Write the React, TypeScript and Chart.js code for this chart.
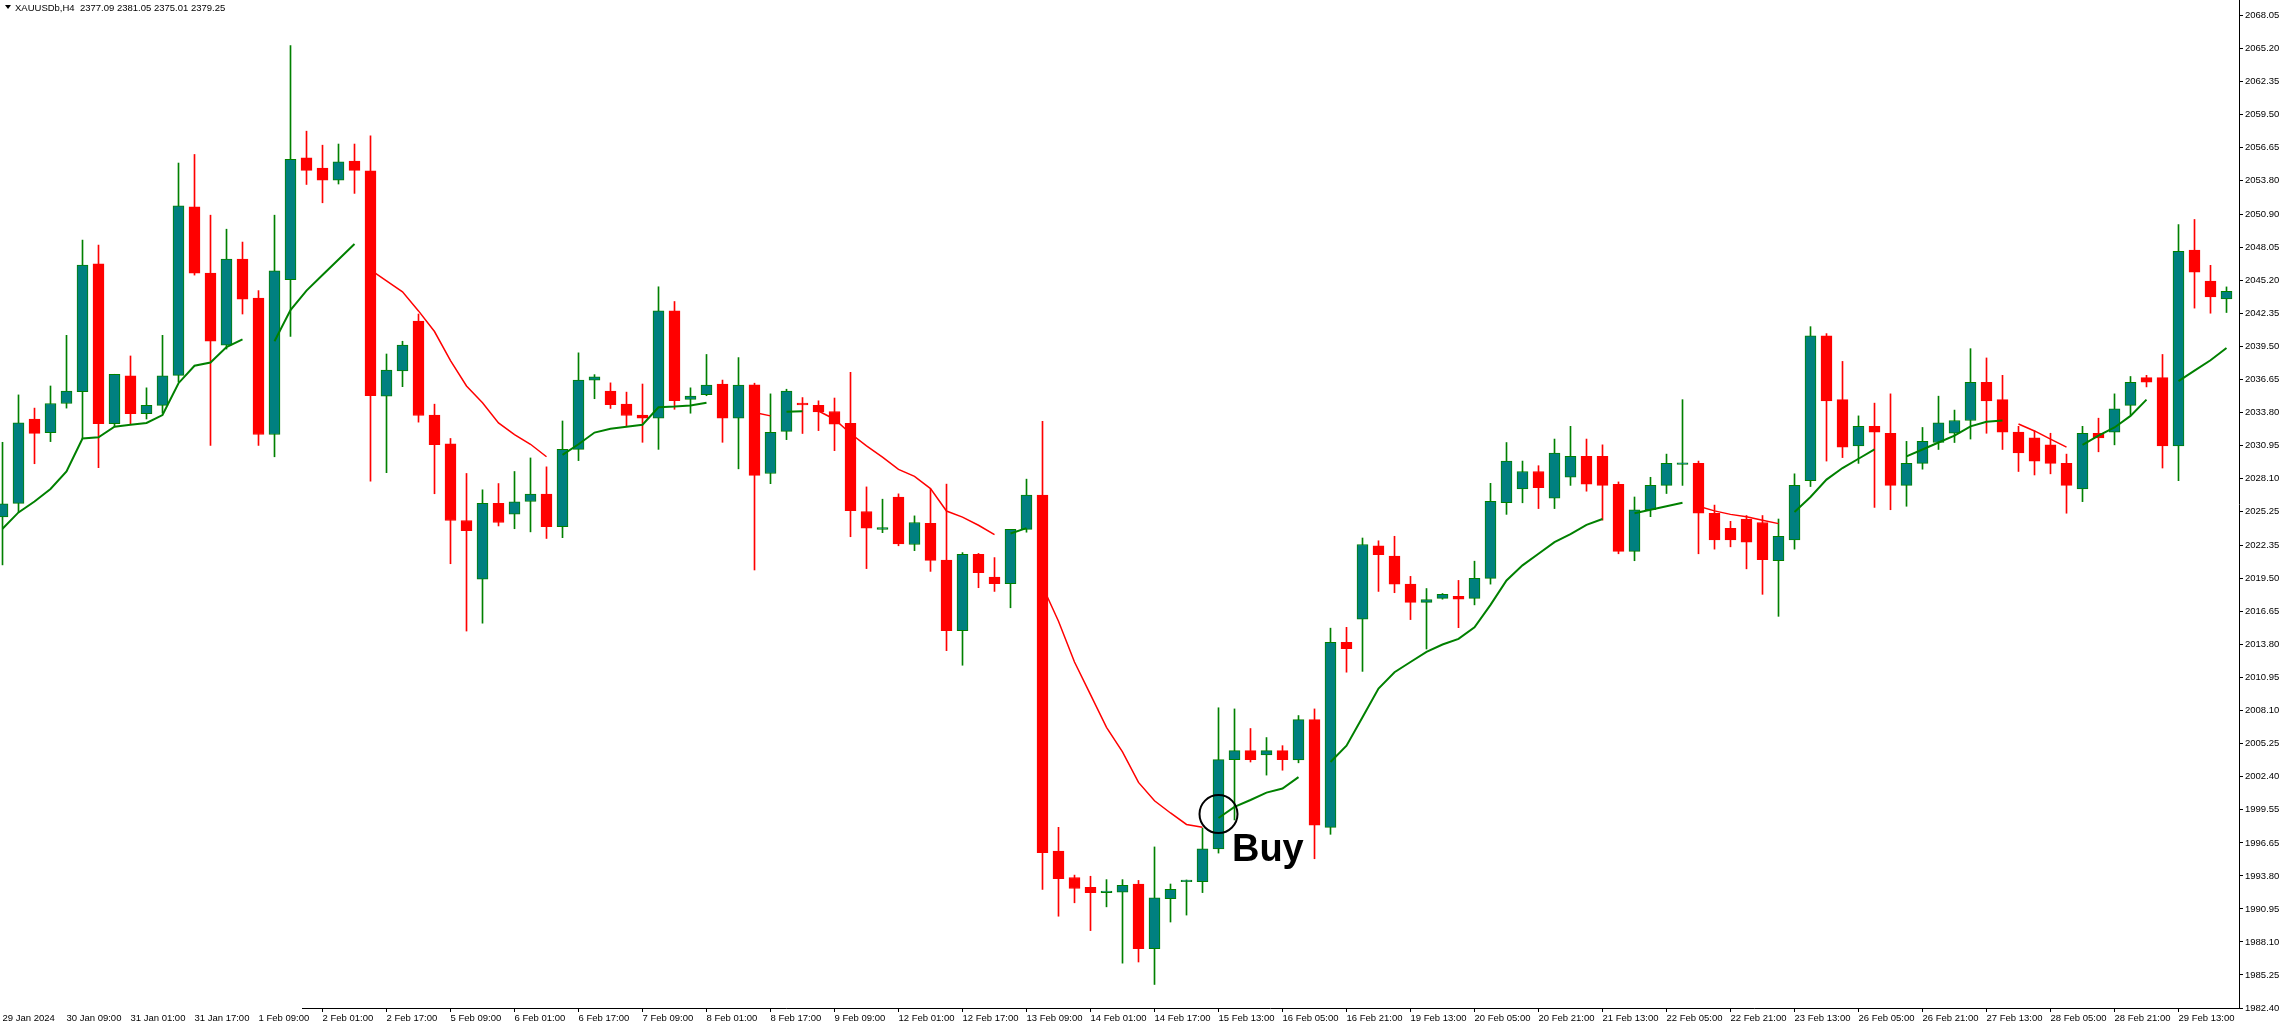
import React, { useEffect, useRef } from 'react';
import { Chart, registerables } from 'chart.js';

Chart.register(...registerables);

// ---- Data (XAUUSDb, H4) ----
const opens = [
  2024.77, 2025.95, 2033.23, 2032.06, 2034.57, 2035.58, 2046.62, 2032.83, 2036.96, 2033.70,
  2034.40, 2036.99, 2051.53, 2045.82, 2039.61, 2047.03, 2043.67, 2031.89, 2045.25, 2055.76,
  2054.88, 2053.84, 2055.49, 2054.65, 2035.21, 2037.39, 2041.69, 2033.57, 2031.08, 2024.47,
  2019.40, 2025.95, 2025.01, 2026.11, 2026.75, 2023.93, 2030.61, 2036.59, 2035.65, 2034.51,
  2033.57, 2033.30, 2042.56, 2034.91, 2035.34, 2036.25, 2033.30, 2036.18, 2028.53, 2032.16,
  2034.60, 2034.41, 2033.88, 2032.86, 2025.25, 2023.70, 2026.49, 2022.40, 2024.23, 2021.06,
  2014.97, 2021.56, 2019.58, 2019.02, 2023.70, 2026.66, 1995.95, 1993.66, 1992.82, 1992.36,
  1992.39, 1993.10, 1987.53, 1991.83, 1993.30, 1993.31, 1996.13, 2003.84, 2004.61, 2004.23,
  2004.61, 2003.80, 2007.29, 1997.99, 2013.95, 2015.96, 2022.29, 2021.41, 2018.98, 2017.40,
  2017.75, 2017.93, 2017.75, 2019.48, 2026.00, 2027.20, 2028.70, 2026.40, 2028.20, 2030.00,
  2030.00, 2027.60, 2021.80, 2025.40, 2027.50, 2029.30, 2029.40, 2025.10, 2023.80, 2024.60,
  2024.30, 2021.00, 2022.80, 2027.90, 2040.40, 2034.90, 2030.90, 2032.60, 2032.00, 2027.50,
  2029.40, 2031.20, 2032.00, 2033.10, 2036.40, 2034.90, 2032.10, 2031.60, 2031.00, 2029.40,
  2027.20, 2032.00, 2032.10, 2034.40, 2036.80, 2036.80, 2030.90, 2047.80, 2045.14, 2043.60,
];
const highs = [
  2031.22, 2035.31, 2034.17, 2036.08, 2040.45, 2048.67, 2048.24, 2037.09, 2038.67, 2035.92,
  2040.45, 2055.32, 2056.06, 2050.82, 2049.61, 2048.50, 2044.31, 2050.82, 2065.46, 2058.07,
  2056.86, 2056.96, 2056.96, 2057.67, 2038.84, 2039.94, 2042.29, 2034.51, 2031.55, 2028.53,
  2027.12, 2027.66, 2028.70, 2029.87, 2029.10, 2033.06, 2038.94, 2037.06, 2036.35, 2035.55,
  2036.25, 2044.64, 2043.37, 2035.92, 2038.80, 2036.59, 2038.53, 2036.32, 2035.40, 2035.80,
  2035.08, 2034.80, 2035.04, 2037.26, 2027.37, 2026.31, 2026.77, 2024.87, 2027.19, 2027.61,
  2021.70, 2021.63, 2021.27, 2023.70, 2028.04, 2033.04, 1997.99, 1993.87, 1993.77, 1993.48,
  1993.48, 1993.41, 1996.30, 1993.10, 1993.45, 1997.92, 2008.31, 2008.21, 2006.52, 2005.74,
  2005.04, 2007.64, 2008.21, 2015.18, 2015.25, 2022.96, 2022.72, 2023.11, 2019.65, 2018.60,
  2018.17, 2019.30, 2020.96, 2027.68, 2031.20, 2029.60, 2029.20, 2031.50, 2032.60, 2031.50,
  2031.00, 2027.80, 2026.50, 2028.20, 2030.20, 2034.90, 2029.60, 2025.80, 2024.40, 2024.90,
  2024.90, 2024.60, 2028.50, 2041.20, 2040.60, 2038.20, 2033.50, 2034.60, 2035.40, 2031.30,
  2032.50, 2035.20, 2034.00, 2039.30, 2038.50, 2037.00, 2032.60, 2032.20, 2032.00, 2030.20,
  2032.60, 2033.30, 2035.40, 2036.90, 2037.00, 2038.80, 2050.00, 2050.45, 2046.49, 2044.63,
];
const lows = [
  2020.64, 2025.17, 2029.37, 2031.28, 2034.17, 2031.55, 2029.03, 2032.56, 2032.79, 2033.23,
  2033.73, 2036.42, 2045.65, 2030.95, 2039.27, 2042.29, 2030.95, 2029.97, 2040.35, 2053.47,
  2051.89, 2053.51, 2052.70, 2027.86, 2028.60, 2036.02, 2032.96, 2026.78, 2020.74, 2014.93,
  2015.61, 2024.00, 2023.76, 2023.49, 2022.92, 2022.99, 2029.64, 2034.98, 2034.14, 2032.56,
  2031.22, 2030.61, 2034.07, 2033.73, 2035.24, 2031.22, 2028.93, 2020.20, 2027.65, 2031.45,
  2031.98, 2032.23, 2030.50, 2023.07, 2020.32, 2023.42, 2022.29, 2021.87, 2020.08, 2013.24,
  2011.98, 2018.67, 2018.35, 2016.94, 2023.46, 1992.64, 1990.32, 1991.48, 1989.08, 1991.13,
  1986.27, 1986.37, 1984.43, 1989.82, 1990.42, 1992.36, 1995.77, 1998.63, 2003.63, 2002.50,
  2002.92, 2003.56, 1995.28, 1997.39, 2011.38, 2011.45, 2018.35, 2018.24, 2015.92, 2013.38,
  2017.68, 2015.22, 2017.19, 2018.98, 2025.00, 2026.00, 2025.50, 2025.50, 2027.50, 2027.00,
  2024.50, 2021.60, 2021.00, 2024.80, 2026.80, 2027.50, 2021.60, 2022.00, 2022.20, 2020.30,
  2018.10, 2016.20, 2022.00, 2027.40, 2029.60, 2029.90, 2029.40, 2025.60, 2025.40, 2025.70,
  2028.90, 2030.60, 2031.20, 2031.50, 2032.00, 2030.60, 2028.70, 2028.40, 2028.50, 2025.10,
  2026.10, 2030.40, 2031.00, 2033.60, 2036.00, 2029.00, 2027.90, 2042.80, 2042.36, 2042.42,
];
const closes = [
  2025.91, 2032.89, 2031.99, 2034.57, 2035.65, 2046.52, 2032.83, 2037.09, 2033.70, 2034.40,
  2036.96, 2051.63, 2045.82, 2039.94, 2047.03, 2043.57, 2031.89, 2046.02, 2055.65, 2054.68,
  2053.84, 2055.42, 2054.68, 2035.24, 2037.46, 2039.61, 2033.53, 2031.01, 2024.47, 2023.60,
  2025.95, 2024.30, 2026.08, 2026.75, 2023.93, 2030.61, 2036.59, 2036.86, 2034.47, 2033.53,
  2033.30, 2042.56, 2034.81, 2035.21, 2036.15, 2033.30, 2036.15, 2028.36, 2032.09, 2035.64,
  2034.45, 2033.85, 2032.79, 2025.32, 2023.81, 2023.86, 2022.44, 2024.30, 2021.03, 2014.97,
  2021.56, 2019.97, 2019.02, 2023.70, 2026.66, 1995.81, 1993.56, 1992.71, 1992.36, 1992.50,
  1992.99, 1987.53, 1991.90, 1992.64, 1993.45, 1996.13, 2003.84, 2004.61, 2003.84, 2004.61,
  2003.84, 2007.29, 1998.17, 2013.95, 2013.42, 2022.40, 2021.52, 2018.98, 2017.40, 2017.65,
  2018.10, 2017.68, 2019.48, 2026.13, 2029.60, 2028.70, 2027.30, 2030.30, 2030.00, 2027.60,
  2027.50, 2021.80, 2025.40, 2027.50, 2029.40, 2029.45, 2025.10, 2022.80, 2022.80, 2022.60,
  2021.10, 2023.10, 2027.50, 2040.40, 2034.80, 2030.80, 2032.60, 2032.10, 2027.50, 2029.40,
  2031.30, 2032.90, 2033.10, 2036.40, 2034.80, 2032.10, 2030.30, 2029.60, 2029.40, 2027.50,
  2032.00, 2031.60, 2034.10, 2036.40, 2036.40, 2030.90, 2047.70, 2045.91, 2043.76, 2044.25,
];

// moving average, rising part (green) and falling part (red); null = not drawn
const maUp = [
  2023.76, 2025.17, 2026.11, 2027.19, 2028.70, 2031.55, 2031.65, 2032.56, 2032.73, 2032.89,
  2033.57, 2036.32, 2037.83, 2038.10, 2039.44, 2040.11, null, 2039.94, 2042.63, 2044.31,
  2045.65, 2046.99, 2048.34, null, null, null, null, null, null, null,
  null, null, null, null, null, 2030.14, 2031.05, 2032.06, 2032.39, 2032.56,
  2032.73, 2034.24, 2034.30, 2034.40, 2034.64, null, null, null, null, 2033.85,
  2033.90, null, null, null, null, null, null, null, null, null,
  null, null, null, 2023.35, 2023.81, null, null, null, null, null,
  null, null, null, null, null, null, 1998.80, 1999.75, 2000.35, 2000.99,
  2001.34, 2002.32, null, 2003.63, 2005.04, 2007.50, 2009.97, 2011.38, 2012.26, 2013.14,
  2013.77, 2014.26, 2015.25, 2017.19, 2019.30, 2020.60, 2021.60, 2022.60, 2023.30, 2024.10,
  2024.60, null, 2025.10, 2025.40, 2025.70, 2026.00, null, null, null, null,
  null, null, 2025.20, 2026.50, 2028.00, 2029.00, 2029.80, 2030.60, null, 2030.00,
  2030.60, 2031.20, 2031.80, 2032.60, 2033.00, 2033.10, null, null, null, null,
  2031.00, 2031.80, 2032.50, 2033.50, 2034.90, null, 2036.50, 2037.40, 2038.30, 2039.36,
];
const maDown = [
  null, null, null, null, null, null, null, null, null, null,
  null, null, null, null, null, null, null, null, null, null,
  null, null, null, 2046.10, 2045.15, 2044.21, 2042.56, 2040.78, 2038.27, 2036.08,
  2034.64, 2032.89, 2031.89, 2031.05, 2029.97, null, null, null, null, null,
  null, null, null, null, null, null, null, 2033.80, 2033.50, null,
  null, 2033.92, 2033.21, 2031.98, 2030.92, 2029.94, 2028.88, 2028.28, 2027.23, 2025.29,
  2024.76, 2024.06, 2023.25, null, null, 2018.80, 2015.78, 2012.26, 2009.44, 2006.62,
  2004.51, 2001.87, 2000.28, 1999.23, 1998.24, 1997.99, null, null, null, null,
  null, null, null, null, null, null, null, null, null, null,
  null, null, null, null, null, null, null, null, null, null,
  null, null, null, null, null, null, 2025.70, 2025.30, 2025.00, 2024.80,
  2024.50, 2024.20, null, null, null, null, null, null, null, null,
  null, null, null, null, null, null, 2032.80, 2032.20, 2031.50, 2030.80,
  null, null, null, null, null, null, null, null, null, null,
];

const xTickLabels = [
  '29 Jan 2024', '30 Jan 09:00', '31 Jan 01:00', '31 Jan 17:00', '1 Feb 09:00',
  '2 Feb 01:00', '2 Feb 17:00', '5 Feb 09:00', '6 Feb 01:00', '6 Feb 17:00',
  '7 Feb 09:00', '8 Feb 01:00', '8 Feb 17:00', '9 Feb 09:00', '12 Feb 01:00',
  '12 Feb 17:00', '13 Feb 09:00', '14 Feb 01:00', '14 Feb 17:00', '15 Feb 13:00',
  '16 Feb 05:00', '16 Feb 21:00', '19 Feb 13:00', '20 Feb 05:00', '20 Feb 21:00',
  '21 Feb 13:00', '22 Feb 05:00', '22 Feb 21:00', '23 Feb 13:00', '26 Feb 05:00',
  '26 Feb 21:00', '27 Feb 13:00', '28 Feb 05:00', '28 Feb 21:00', '29 Feb 13:00',
];
const yTickLabels = [
  '2068.05', '2065.20', '2062.35', '2059.50', '2056.65', '2053.80', '2050.90', '2048.05',
  '2045.20', '2042.35', '2039.50', '2036.65', '2033.80', '2030.95', '2028.10', '2025.25',
  '2022.35', '2019.50', '2016.65', '2013.80', '2010.95', '2008.10', '2005.25', '2002.40',
  '1999.55', '1996.65', '1993.80', '1990.95', '1988.10', '1985.25', '1982.40',
];

const titleText = 'XAUUSDb,H4  2377.09 2381.05 2375.01 2379.25';
const signalBar = 76;
const signalPrice = 1999.14;
const signalLabel = 'Buy';
const signalLabelBar = 76.84;
const signalLabelPrice = 1995.1;

const BAR_PX = 16;
const X_MIN = -2.5 / BAR_PX;
const X_MAX = X_MIN + 2239 / BAR_PX;
const Y_MIN = 1982.4;
const Y_MAX = 2069.39;
const FONT = 'Liberation Sans, Arial, sans-serif';

const BULL_FILL = '#008080';
const BULL_LINE = '#008000';
const BEAR = '#ff0000';

export default function App() {
  const ref = useRef<HTMLCanvasElement | null>(null);

  useEffect(() => {
    const canvas = ref.current;
    if (!canvas) return;
    const isBull = (i: number) => closes[i] >= opens[i];

    const overlay = {
      id: 'mt4overlay',
      afterDraw(chart: any) {
        const ctx = chart.ctx;
        const xs = chart.scales.x;
        const ys = chart.scales.y;
        const area = chart.chartArea;
        ctx.save();
        // partial time axis line
        ctx.strokeStyle = '#000';
        ctx.lineWidth = 1;
        ctx.beginPath();
        ctx.moveTo(302, Math.round(area.bottom) + 0.5);
        ctx.lineTo(area.right, Math.round(area.bottom) + 0.5);
        ctx.stroke();
        // title
        ctx.fillStyle = '#000';
        ctx.beginPath();
        ctx.moveTo(5, 5);
        ctx.lineTo(11, 5);
        ctx.lineTo(8, 9);
        ctx.closePath();
        ctx.fill();
        ctx.font = '9.5px ' + FONT;
        ctx.textBaseline = 'alphabetic';
        ctx.textAlign = 'left';
        ctx.fillText(titleText, 15, 11);
        // signal label
        ctx.font = 'bold 38px ' + FONT;
        ctx.fillText(signalLabel, xs.getPixelForValue(signalLabelBar), ys.getPixelForValue(signalLabelPrice));
        ctx.restore();
      },
    };

    const chart = new Chart(canvas, {
      type: 'bar',
      data: {
        datasets: [
          {
            type: 'line',
            data: [{ x: signalBar, y: signalPrice }],
            showLine: false,
            pointRadius: 19,
            pointBorderWidth: 2,
            pointBorderColor: '#000',
            pointBackgroundColor: 'rgba(0,0,0,0)',
            order: -2,
            clip: false,
          } as any,
          {
            type: 'line',
            data: maUp.map((v, i) => ({ x: i, y: v })),
            borderColor: BULL_LINE,
            borderWidth: 2,
            pointRadius: 0,
            spanGaps: false,
            tension: 0,
            order: -1,
          } as any,
          {
            type: 'line',
            data: maDown.map((v, i) => ({ x: i, y: v })),
            borderColor: BEAR,
            borderWidth: 1.5,
            pointRadius: 0,
            spanGaps: false,
            tension: 0,
            order: -1,
          } as any,
          {
            type: 'bar',
            data: opens.map((o, i) => ({ x: i, y: [o, closes[i]] })),
            backgroundColor: opens.map((_, i) => (isBull(i) ? BULL_FILL : BEAR)),
            borderColor: opens.map((_, i) => (isBull(i) ? BULL_LINE : BEAR)),
            borderWidth: 1,
            borderSkipped: false,
            barThickness: 11,
            grouped: false,
            order: 1,
          } as any,
          {
            type: 'bar',
            data: lows.map((l, i) => ({ x: i, y: [l, highs[i]] })),
            backgroundColor: lows.map((_, i) => (isBull(i) ? BULL_LINE : BEAR)),
            borderWidth: 0,
            barThickness: 1,
            grouped: false,
            order: 2,
          } as any,
        ],
      },
      options: {
        responsive: false,
        animation: false,
        devicePixelRatio: 1,
        layout: { padding: 0, autoPadding: false },
        plugins: { legend: { display: false }, tooltip: { enabled: false } },
        scales: {
          x: {
            type: 'linear',
            position: 'bottom',
            min: X_MIN,
            max: X_MAX,
            offset: false,
            afterFit: (s: any) => {
              s.height = 17;
              s.paddingLeft = 0;
              s.paddingRight = 0;
            },
            afterBuildTicks: (s: any) => {
              s.ticks = xTickLabels.map((_, j) => ({ value: j * 4 }));
            },
            ticks: {
              autoSkip: false,
              maxRotation: 0,
              minRotation: 0,
              align: 'start',
              padding: 1,
              color: '#000',
              font: { family: FONT, size: 9.5 },
              callback: (v: any) => xTickLabels[Math.round(Number(v) / 4)] ?? '',
            },
            grid: {
              display: true,
              offset: false,
              drawOnChartArea: false,
              drawTicks: true,
              tickLength: 4,
              color: (c: any) => (c.tick && c.tick.value >= 20 ? '#000' : 'rgba(0,0,0,0)'),
            },
            border: { display: false },
          } as any,
          y: {
            type: 'linear',
            position: 'right',
            min: Y_MIN,
            max: Y_MAX,
            afterFit: (s: any) => {
              s.width = 40;
              s.paddingTop = 0;
              s.paddingBottom = 0;
            },
            afterBuildTicks: (s: any) => {
              s.ticks = yTickLabels.map((t) => ({ value: parseFloat(t) }));
            },
            ticks: {
              autoSkip: false,
              padding: 2,
              color: '#000',
              font: { family: FONT, size: 9.5 },
              callback: (v: any) => {
                const f = yTickLabels.find((t) => Math.abs(parseFloat(t) - Number(v)) < 0.001);
                return f ?? '';
              },
            },
            grid: {
              display: true,
              drawOnChartArea: false,
              drawTicks: true,
              tickLength: 4,
              color: '#000',
            },
            border: { display: true, color: '#000', width: 1 },
          } as any,
        },
      },
      plugins: [overlay],
    });
    return () => chart.destroy();
  }, []);

  return (
    <div style={{ position: 'fixed', left: 0, top: 0, width: 2279, height: 1025, background: '#fff' }}>
      <canvas ref={ref} width={2279} height={1025} style={{ width: 2279, height: 1025, display: 'block' }} />
    </div>
  );
}
